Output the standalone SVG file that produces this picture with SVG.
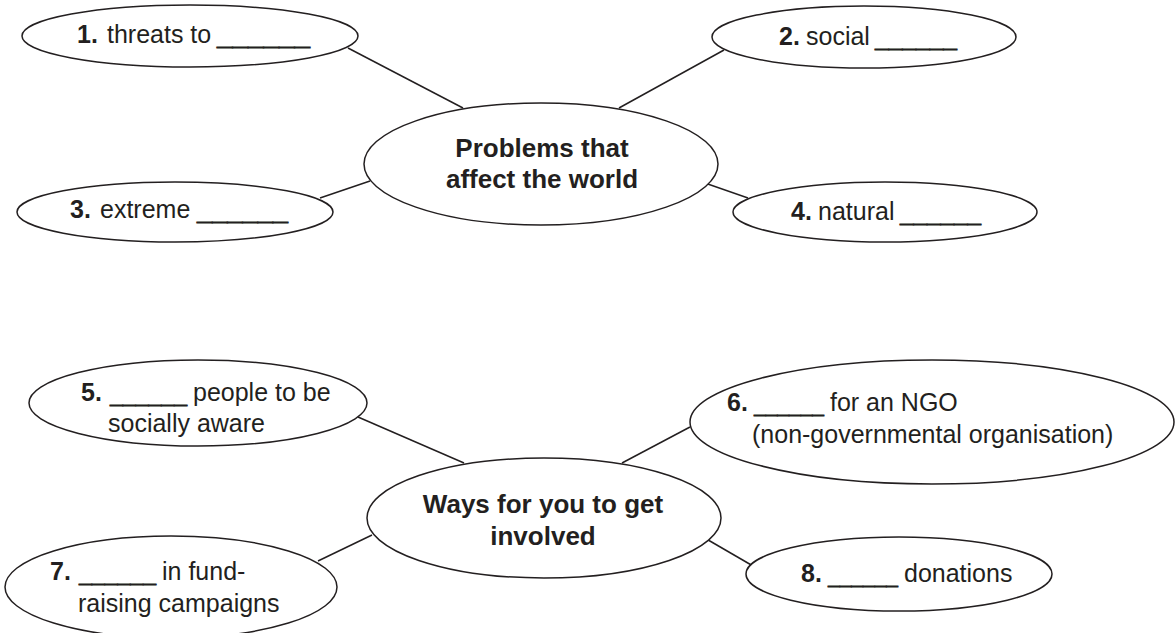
<svg xmlns="http://www.w3.org/2000/svg" width="1175" height="633" viewBox="0 0 1175 633">
<style>
.n ellipse{fill:#fff;stroke:#231f20;stroke-width:1.5}
.c line{stroke:#231f20;stroke-width:1.5}
text{font-family:"Liberation Sans",Arial,sans-serif;font-size:25px;fill:#231f20}
.b{font-weight:bold}
.u{font-weight:bold;stroke:#231f20;stroke-width:0.8}
.h{font-weight:bold;font-size:26px;text-anchor:middle}
</style>
<rect width="1175" height="633" fill="#fff"/>
<g id="connectors" class="c">
<line x1="348" y1="48" x2="463" y2="108"/>
<line x1="724" y1="50" x2="619" y2="108"/>
<line x1="320" y1="198" x2="370" y2="181"/>
<line x1="702" y1="182" x2="748" y2="198"/>
<line x1="358" y1="417" x2="464" y2="463"/>
<line x1="690" y1="427" x2="622" y2="463"/>
<line x1="318" y1="561" x2="372" y2="535"/>
<line x1="703" y1="537" x2="753" y2="566"/>
</g>
<g id="center1" class="n">
<ellipse cx="541" cy="164" rx="177" ry="61"/>
<text class="h" x="542" y="157">Problems that</text>
<text class="h" x="542" y="188">affect the world</text>
</g>
<g id="node1" class="n">
<ellipse cx="190" cy="36" rx="168" ry="31"/>
<text x="77" y="43"><tspan class="b">1.</tspan><tspan x="107">threats to</tspan><tspan class="u" x="217" y="45" textLength="93" lengthAdjust="spacingAndGlyphs">______</tspan></text>
</g>
<g id="node2" class="n">
<ellipse cx="864" cy="37" rx="152" ry="31"/>
<text x="779" y="45"><tspan class="b">2.</tspan><tspan x="806">social</tspan><tspan class="u" x="875" y="47" textLength="82" lengthAdjust="spacingAndGlyphs">______</tspan></text>
</g>
<g id="node3" class="n">
<ellipse cx="175" cy="212" rx="158" ry="30"/>
<text x="70" y="218"><tspan class="b">3.</tspan><tspan x="100">extreme</tspan><tspan class="u" x="197" y="220" textLength="91" lengthAdjust="spacingAndGlyphs">______</tspan></text>
</g>
<g id="node4" class="n">
<ellipse cx="885" cy="212" rx="152" ry="30"/>
<text x="791" y="220"><tspan class="b">4.</tspan><tspan x="818">natural</tspan><tspan class="u" x="900" y="222" textLength="81" lengthAdjust="spacingAndGlyphs">______</tspan></text>
</g>
<g id="center2" class="n">
<ellipse cx="544" cy="518" rx="177" ry="60"/>
<text class="h" x="543" y="513">Ways for you to get</text>
<text class="h" x="543" y="545">involved</text>
</g>
<g id="node5" class="n">
<ellipse cx="198" cy="403" rx="169" ry="43"/>
<text x="81" y="401"><tspan class="b">5.</tspan><tspan class="u" x="110" y="403" textLength="77" lengthAdjust="spacingAndGlyphs">______</tspan><tspan x="193" y="401">people to be</tspan></text>
<text x="108" y="432">socially aware</text>
</g>
<g id="node6" class="n">
<ellipse cx="932" cy="422" rx="242" ry="62"/>
<text x="727" y="411"><tspan class="b">6.</tspan><tspan class="u" x="754" y="413" textLength="70" lengthAdjust="spacingAndGlyphs">______</tspan><tspan x="830" y="411">for an NGO</tspan></text>
<text x="752" y="443">(non-governmental organisation)</text>
</g>
<g id="node7" class="n">
<ellipse cx="171" cy="587" rx="166" ry="51"/>
<text x="50" y="580"><tspan class="b">7.</tspan><tspan class="u" x="79" y="582" textLength="77" lengthAdjust="spacingAndGlyphs">______</tspan><tspan x="162" y="580">in fund-</tspan></text>
<text x="78" y="612">raising campaigns</text>
</g>
<g id="node8" class="n">
<ellipse cx="899" cy="574" rx="153" ry="37"/>
<text x="801" y="582"><tspan class="b">8.</tspan><tspan class="u" x="828" y="584" textLength="70" lengthAdjust="spacingAndGlyphs">______</tspan><tspan x="904" y="582">donations</tspan></text>
</g>
</svg>
